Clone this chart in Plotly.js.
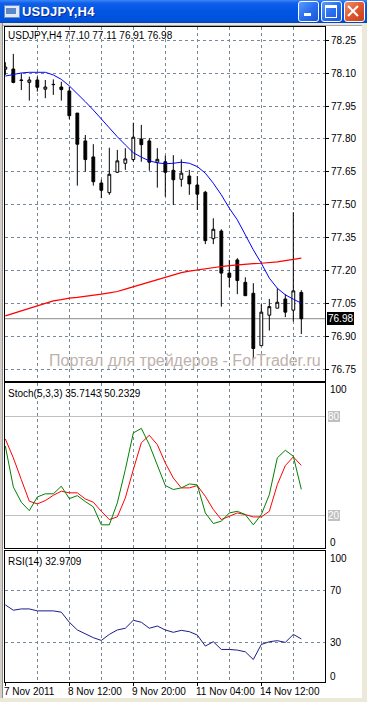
<!DOCTYPE html>
<html><head><meta charset="utf-8">
<script src="https://cdn.plot.ly/plotly-3.0.1.min.js"></script>
<style>
html,body{margin:0;padding:0;width:367px;height:702px;overflow:hidden;background:#fff;font-family:"Liberation Sans",Arial,sans-serif;}
#chart{position:absolute;left:0;top:0;width:367px;height:702px;}
.ov{position:absolute;z-index:10;pointer-events:none;}
#titlebar{left:0;top:0;width:367px;height:23px;background:linear-gradient(#3b86f7 0%,#0f5fea 14%,#0256e4 45%,#0052dd 85%,#0046c4 100%);}
#ttext{left:22px;top:4px;color:#fff;font-weight:bold;font-size:13px;letter-spacing:0.2px;text-shadow:1px 1px 0 #0a2a8a;}
#icon{left:4px;top:5px;width:14px;height:11px;background:#dfe9f7;border:1px solid #6d8fc4;}
#icon2{left:6px;top:8px;width:10px;height:6px;background:#5d87c9;}
.btn{top:1px;width:19px;height:19px;border:1px solid #fff;border-radius:3px;background:linear-gradient(135deg,#5b9bff 0%,#2a6ff0 50%,#1a55d8 100%);}
#bmin{left:298px;} #bmax{left:321px;}
#bclose{left:344px;background:linear-gradient(135deg,#ef8f6c 0%,#e0572f 50%,#c63e1c 100%);}
#gmin{left:304px;top:13px;width:7px;height:3px;background:#fff;}
#gmax{left:325px;top:5px;width:10px;height:9px;border:1px solid #fff;border-top:3px solid #fff;}
#gx1,#gx2{left:352px;top:4px;width:2px;height:14px;background:#fff;}
#gx1{transform:rotate(45deg);} #gx2{transform:rotate(-45deg);}
#topstrip{left:0;top:23px;width:367px;height:3px;background:#ece9d8;border-bottom:1px solid #a7a7a7;box-sizing:border-box;}
#leftstrip{left:0;top:23px;width:3px;height:679px;background:#d4d0c8;border-right:1px solid #8c8c8c;box-sizing:border-box;}
#rightstrip{left:362px;top:23px;width:5px;height:679px;background:#ece9d8;}
#botstrip{left:0;top:698px;width:367px;height:4px;background:#ece9d8;}
</style>
</head><body>
<div id="chart"></div>
<div class="ov" id="titlebar"></div>
<div class="ov" id="icon"></div><div class="ov" id="icon2"></div>
<div class="ov" id="ttext">USDJPY,H4</div>
<div class="ov btn" id="bmin"></div><div class="ov btn" id="bmax"></div><div class="ov btn" id="bclose"></div>
<div class="ov" id="gmin"></div><div class="ov" id="gmax"></div><div class="ov" id="gx1"></div><div class="ov" id="gx2"></div>
<div class="ov" id="topstrip"></div><div class="ov" id="leftstrip"></div><div class="ov" id="rightstrip"></div><div class="ov" id="botstrip"></div>
<script>
// ---- data (H4 bars, index 0..37) ----
const symbol = 'USDJPY,H4';
const barIndex = [0,1,2,3,4,5,6,7,8,9,10,11,12,13,14,15,16,17,18,19,20,21,22,23,24,25,26,27,28,29,30,31,32,33,34,35,36,37];
const openP  = [78.118,78.119,78.069,78.058,78.069,78.027,78.049,78.037,78.019,77.918,77.791,77.718,77.599,77.555,77.648,77.689,77.706,77.800,77.791,77.694,77.696,77.657,77.616,77.631,77.590,77.557,77.345,77.380,77.188,77.248,77.146,77.096,76.857,76.996,77.028,77.070,77.019,77.10];
const highP  = [78.150,78.188,78.100,78.084,78.084,78.069,78.072,78.061,78.038,77.918,77.818,77.776,77.614,77.760,77.750,77.758,77.874,77.864,77.803,77.758,77.724,77.726,77.707,77.659,77.631,77.563,77.438,77.388,77.248,77.256,77.169,77.142,77.046,77.070,77.119,77.092,77.466,77.11];
const lowP   = [78.092,78.054,78.023,77.975,78.016,77.986,78.001,77.975,77.890,77.587,77.651,77.587,77.530,77.545,77.645,77.659,77.696,77.696,77.655,77.578,77.537,77.499,77.582,77.545,77.476,77.320,77.320,77.035,77.124,77.092,77.085,76.795,76.857,76.926,77.028,76.987,76.967,76.91];
const closeP = [78.128,78.058,78.067,78.069,78.036,78.037,78.048,78.025,77.906,77.776,77.706,77.605,77.566,77.639,77.700,77.709,77.808,77.774,77.694,77.707,77.648,77.614,77.644,77.595,77.548,77.336,77.388,77.188,77.169,77.154,77.085,76.844,77.010,77.035,77.055,77.010,77.107,76.98];
const maFast = [78.087,78.095,78.101,78.104,78.104,78.104,78.092,78.072,78.042,78.008,77.970,77.932,77.890,77.849,77.810,77.773,77.737,77.717,77.700,77.691,77.687,77.689,77.694,77.689,77.674,77.644,77.598,77.545,77.484,77.431,77.362,77.294,77.233,77.165,77.119,77.089,77.069,77.051];
const maSlow = [76.993,77.004,77.016,77.027,77.038,77.050,77.061,77.067,77.074,77.077,77.081,77.086,77.092,77.098,77.104,77.115,77.126,77.138,77.149,77.159,77.169,77.180,77.190,77.197,77.203,77.208,77.213,77.218,77.222,77.226,77.230,77.231,77.233,77.235,77.239,77.245,77.251,77.256];
const stochMain   = [62.0,37.2,27.9,22.8,31.1,33.0,33.0,37.6,30.1,31.9,28.3,25.1,14.2,14.2,27.5,47.7,69.9,72.7,62.8,50.7,38.0,35.6,36.6,39.0,38.4,21.4,15.0,16.4,21.4,22.4,20.4,14.2,20.4,32.5,54.8,59.4,55.8,35.7143];
const stochSignal = [66.3,54.8,41.6,28.5,26.9,28.9,32.1,34.6,33.6,33.6,29.9,27.9,22.4,17.4,19.0,30.5,47.7,63.9,68.5,62.8,51.7,42.6,36.6,36.6,38.0,31.5,23.5,17.4,19.4,21.4,20.4,19.0,19.0,22.4,38.6,50.1,55.4,50.2329];
const rsi = [59.0,54.9,55.9,55.9,54.4,54.4,54.4,53.4,45.7,39.8,36.9,33.9,31.8,36.4,39.8,41.1,47.2,45.7,41.1,42.8,39.8,38.0,39.5,38.5,35.9,27.5,30.8,24.9,24.9,24.4,23.1,17.2,28.7,30.8,31.6,30.3,36.4,32.9709];
const priceTicks = [76.75,76.90,77.05,77.20,77.35,77.50,77.65,77.80,77.95,78.10,78.25];
const dateLabelIdx = [0,8,16,24,32];
const dateLabels = ['7 Nov 2011','8 Nov 12:00','9 Nov 20:00','11 Nov 04:00','14 Nov 12:00'];
const stochLevels = [20,80];
const rsiLevels = [30,70];
const watermark = 'Портал для трейдеров - ForTrader.ru';

// ---- style ----
const FONT = '"Liberation Sans", Arial, sans-serif';
const GRID = '#778899';
const DASH = '3px,3px';
const n = barIndex.length - 1;

const traces = [
  {type:'candlestick', x:barIndex, open:openP, high:highP, low:lowP, close:closeP,
   xaxis:'x', yaxis:'y', whiskerwidth:0, hoverinfo:'skip',
   increasing:{line:{color:'#000',width:1}, fillcolor:'#fff'},
   decreasing:{line:{color:'#000',width:1}, fillcolor:'#000'}},
  {type:'scatter', mode:'lines', x:barIndex, y:maSlow, xaxis:'x', yaxis:'y', line:{color:'#ff0000',width:1.2}, hoverinfo:'skip'},
  {type:'scatter', mode:'lines', x:barIndex, y:maFast, xaxis:'x', yaxis:'y', line:{color:'#0000ff',width:1}, hoverinfo:'skip'},
  {type:'scatter', mode:'lines', x:barIndex, y:stochSignal, xaxis:'x2', yaxis:'y2', line:{color:'#ff0000',width:1}, hoverinfo:'skip'},
  {type:'scatter', mode:'lines', x:barIndex, y:stochMain, xaxis:'x2', yaxis:'y2', line:{color:'#008000',width:1}, hoverinfo:'skip'},
  {type:'scatter', mode:'lines', x:barIndex, y:rsi, xaxis:'x3', yaxis:'y3', line:{color:'#1c1c8c',width:1}, hoverinfo:'skip'}
];

const xBase = {range:[-0.04,39.96], showline:true, mirror:true, linecolor:'#000', linewidth:1,
  showticklabels:false, ticks:'', tickmode:'linear', tick0:0, dtick:4,
  showgrid:true, gridcolor:GRID, griddash:DASH, gridwidth:1, zeroline:false, fixedrange:true};

const ann = [];
const lab = (o) => Object.assign({showarrow:false, borderwidth:0, borderpad:0, font:{family:FONT,size:10,color:'#000'}}, o);
ann.push(lab({xref:'paper', x:0, xanchor:'left', xshift:3, yref:'paper', y:1, yanchor:'top', yshift:-3,
  text: symbol + ' ' + [openP[n],highP[n],lowP[n],closeP[n]].map(v=>v.toFixed(2)).join(' ')}));
ann.push(lab({xref:'paper', x:0, xanchor:'left', xshift:3, yref:'paper', y:0.4560, yanchor:'top', yshift:-4.5,
  text:'Stoch(5,3,3) ' + stochMain[n].toFixed(4) + ' ' + stochSignal[n].toFixed(4)}));
ann.push(lab({xref:'paper', x:0, xanchor:'left', xshift:3, yref:'paper', y:0.1996, yanchor:'top', yshift:-4.5,
  text:'RSI(14) ' + rsi[n].toFixed(4)}));
ann.push(lab({xref:'paper', x:1, xanchor:'left', xshift:2, yref:'y', y:closeP[n], bgcolor:'#000', borderpad:1,
  font:{family:FONT,size:10,color:'#fff'}, text:closeP[n].toFixed(2)}));
ann.push(lab({xref:'paper', x:1, xanchor:'left', xshift:5, yref:'y2', y:100, yshift:-6.5, text:'100'}));
ann.push(lab({xref:'paper', x:1, xanchor:'left', xshift:5, yref:'y2', y:0, yshift:6, text:'0'}));
stochLevels.forEach(v => ann.push(lab({xref:'paper', x:1, xanchor:'left', xshift:3, yref:'y2', y:v, bgcolor:'#c0c0c0',
  font:{family:FONT,size:10,color:'#ffffff'}, text:String(v)})));
ann.push(lab({xref:'paper', x:1, xanchor:'left', xshift:5, yref:'y3', y:100, yshift:-6.8, text:'100'}));
rsiLevels.forEach(v => ann.push(lab({xref:'paper', x:1, xanchor:'left', xshift:5, yref:'y3', y:v, text:String(v)})));
ann.push(lab({xref:'paper', x:1, xanchor:'left', xshift:5, yref:'y3', y:0, yshift:5.7, text:'0'}));
dateLabelIdx.forEach((v,i) => ann.push(lab({xref:'x3', x:v, xanchor:'left', xshift:-1.5, yref:'paper', y:0, yanchor:'top', yshift:-4, text:dateLabels[i]})));
ann.push(lab({xref:'paper', x:0.1375, xanchor:'left', yref:'paper', y:0.4903, yanchor:'middle',
  font:{family:FONT,size:16,color:'#bdb1ad'}, text:watermark}));

const layout = {
  width:367, height:702,
  margin:{l:5, r:42, t:27, b:19.7, pad:0},
  paper_bgcolor:'#ffffff', plot_bgcolor:'#ffffff',
  showlegend:false, dragmode:false, boxgap:0.5,
  font:{family:FONT, size:10, color:'#000'},
  xaxis: Object.assign({}, xBase, {anchor:'y', domain:[0,1], rangeslider:{visible:false}}),
  xaxis2: Object.assign({}, xBase, {anchor:'y2', domain:[0,1], matches:'x'}),
  xaxis3: Object.assign({}, xBase, {anchor:'y3', domain:[0,1], matches:'x', dtick:8, ticks:'outside', ticklen:3, tickcolor:'#000',
     minor:{tick0:0, dtick:4, showgrid:true, gridcolor:GRID, griddash:DASH, ticks:''}}),
  yaxis: {domain:[0.4593,1], anchor:'x', side:'right', range:[76.6951,78.3107], tickmode:'array', tickvals:priceTicks, tickformat:'.2f',
     ticks:'outside', ticklen:3, tickcolor:'#000', showline:true, mirror:true, linecolor:'#000', linewidth:1,
     showgrid:true, gridcolor:GRID, griddash:DASH, zeroline:false, fixedrange:true, tickfont:{family:FONT,size:10,color:'#000'}},
  yaxis2: {domain:[0.2042,0.4560], anchor:'x2', side:'right', range:[0,100], tickmode:'array', tickvals:stochLevels,
     ticks:'', showticklabels:false, showline:true, mirror:true, linecolor:'#000', linewidth:1,
     showgrid:true, gridcolor:'#c0c0c0', griddash:'solid', zeroline:false, fixedrange:true},
  yaxis3: {domain:[0,0.1996], anchor:'x3', side:'right', range:[0,100], tickmode:'array', tickvals:rsiLevels,
     ticks:'', showticklabels:false, showline:true, mirror:true, linecolor:'#000', linewidth:1,
     showgrid:true, gridcolor:GRID, griddash:DASH, zeroline:false, fixedrange:true},
  shapes:[{type:'line', xref:'paper', x0:0, x1:1, yref:'y', y0:closeP[n], y1:closeP[n], line:{color:'#8a8a8a', width:1}, layer:'below'}],
  annotations: ann
};

Plotly.newPlot('chart', traces, layout, {staticPlot:true, displayModeBar:false});
</script>
</body></html>
